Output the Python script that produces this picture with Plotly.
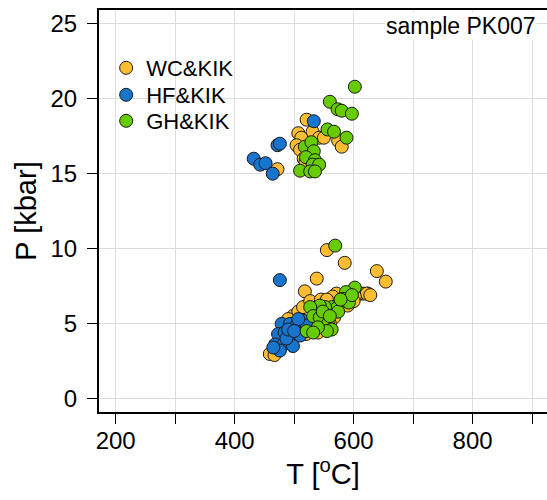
import plotly.graph_objects as go

# ---- data ----
wc_T = [521, 507, 531, 542, 512, 550, 504, 574, 580, 510, 516, 519, 472,
        585, 639, 654, 624, 616, 555, 538, 518, 459, 467, 498, 507, 515,
        527, 571, 611, 622, 628, 567, 540, 565, 602, 490, 545, 555, 590,
        600, 575, 532, 470, 560, 520]
wc_P = [18.6, 17.7, 17.8, 17.4, 17.4, 17.4, 16.9, 17.2, 16.8, 16.6, 16.0, 15.8, 15.3,
        9.05, 8.5, 7.8, 7.0, 7.0, 9.9, 8.0, 7.15, 2.97, 2.9, 5.5, 5.8, 6.1,
        6.5, 7.0, 7.0, 7.0, 6.9, 5.4, 4.4, 6.8, 6.8, 5.3, 6.6, 6.6, 6.2,
        6.5, 6.3, 5.9, 3.6, 5.0, 4.3]

hf_T = [533, 472, 476, 432, 443, 452, 464,
        476, 479, 493, 504, 515, 473, 484, 498, 510, 468, 482, 498, 476,
        465, 487, 521, 507, 490, 500]
hf_P = [18.5, 16.9, 17.0, 16.0, 15.6, 15.7, 15.0,
        7.9, 4.98, 4.98, 4.87, 5.2, 4.3, 4.4, 4.1, 4.2, 3.6, 3.6, 3.5, 3.2,
        3.4, 4.0, 4.87, 5.3, 4.6, 4.5]

gh_T = [602, 560, 573, 580, 597, 556, 567, 588, 518, 529, 533, 520, 535, 531,
        542, 510, 527, 535,
        569, 602, 587, 582, 590, 563, 571, 552, 543, 527, 532, 543, 557, 563,
        555, 540, 521, 532, 574, 592, 597, 578, 548, 560]
gh_P = [20.8, 19.8, 19.3, 19.2, 19.0, 17.95, 17.8, 17.4, 16.8, 17.1, 16.5, 16.1, 15.9, 15.6,
        15.6, 15.2, 15.15, 15.15,
        10.2, 7.4, 7.1, 6.65, 6.5, 6.1, 6.0, 6.1, 6.2, 6.1, 5.5, 5.4, 4.98, 4.6,
        4.5, 4.75, 4.5, 4.4, 5.8, 6.4, 6.9, 6.6, 5.8, 5.5]

series_names = ["WC&KIK", "HF&KIK", "GH&KIK"]
series_colors = ["#FDBD33", "#1874CD", "#66CC00"]

x_tickvals = [200, 300, 400, 500, 600, 700, 800, 900]
x_ticktext = ["200", "", "400", "", "600", "", "800", ""]
y_tickvals = [0, 5, 10, 15, 20, 25]

FONT = "Liberation Sans, Arial, sans-serif"

legend_ids = ["legend", "legend2", "legend3"]
legend_y = [0.8557, 0.7886, 0.7239]

fig = go.Figure()
for name, color, xs, ys, lid in zip(series_names, series_colors,
                                    [wc_T, hf_T, gh_T], [wc_P, hf_P, gh_P],
                                    legend_ids):
    fig.add_trace(go.Scatter(
        x=xs, y=ys, mode="markers", name=name, legend=lid,
        marker=dict(size=13, color=color, line=dict(color="#1a1a1a", width=1)),
    ))

legend_style = dict(x=0.016, xanchor="left", yanchor="middle",
                    bgcolor="rgba(0,0,0,0)", font=dict(size=22, family=FONT),
                    itemsizing="trace")

fig.update_layout(
    width=547, height=500,
    margin=dict(l=99, r=0, t=10, b=88),
    paper_bgcolor="white", plot_bgcolor="white",
    font=dict(family=FONT, color="black"),
    showlegend=True,
    legend=dict(y=legend_y[0], **legend_style),
    legend2=dict(y=legend_y[1], **legend_style),
    legend3=dict(y=legend_y[2], **legend_style),
    annotations=[dict(text="sample PK007", xref="paper", yref="paper",
                      x=0.978, y=0.961, xanchor="right", yanchor="middle",
                      showarrow=False, bgcolor="white", borderpad=0,
                      font=dict(size=23, family=FONT))],
)

fig.update_xaxes(
    range=[172, 925], tickvals=x_tickvals, ticktext=x_ticktext,
    ticks="outside", ticklen=10, tickwidth=1, tickcolor="black",
    showline=True, linecolor="black", linewidth=2, mirror=True,
    showgrid=True, gridcolor="#DDDDDD", gridwidth=1, zeroline=False,
    tickfont=dict(size=24, family=FONT), ticklabelstandoff=-4,
    title=dict(text="T [<sup>o</sup>C]", font=dict(size=29, family=FONT), standoff=8),
)
fig.update_yaxes(
    range=[-0.9, 25.92], tickvals=y_tickvals,
    ticks="outside", ticklen=10, tickwidth=1, tickcolor="black",
    showline=True, linecolor="black", linewidth=2, mirror=False,
    showgrid=True, gridcolor="#DDDDDD", gridwidth=1, zeroline=False,
    tickfont=dict(size=24, family=FONT), ticklabelstandoff=5,
    title=dict(text="P [kbar]", font=dict(size=29, family=FONT), standoff=5),
)

fig.write_html("out.html")
